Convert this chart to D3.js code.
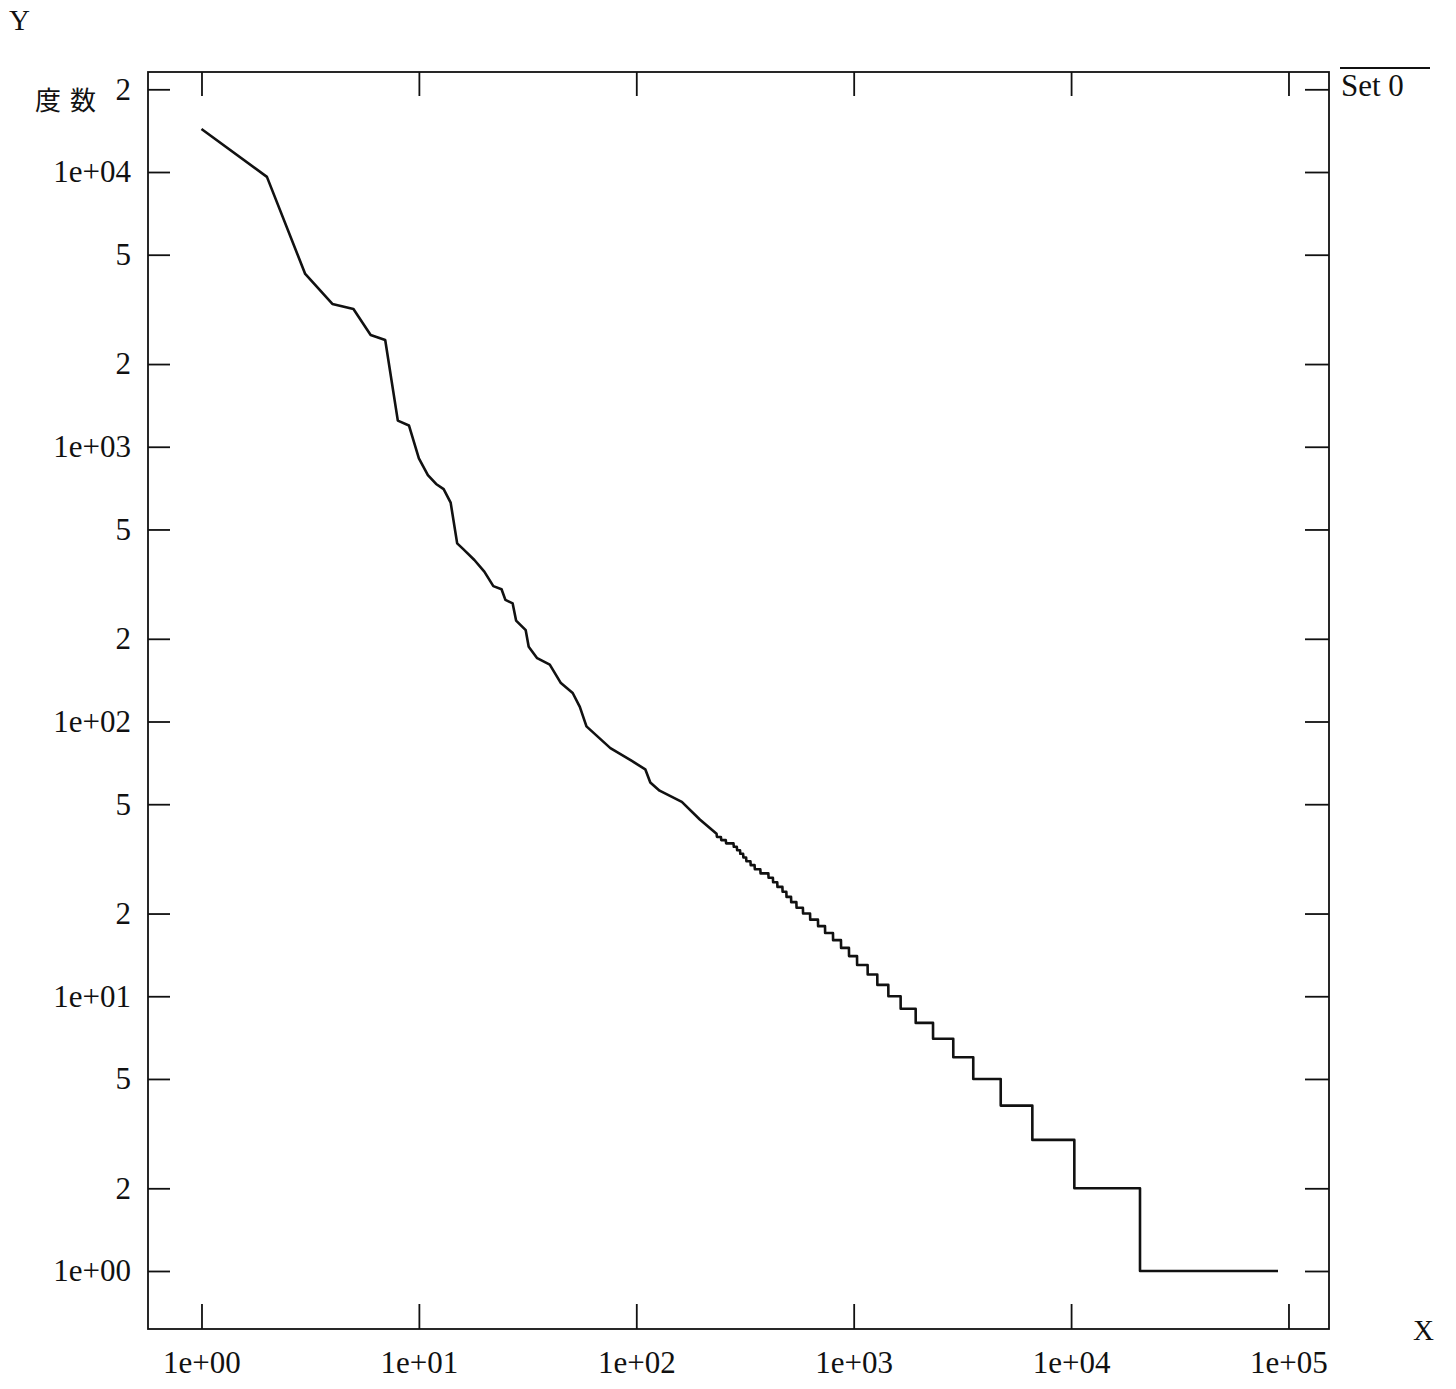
<!DOCTYPE html>
<html><head><meta charset="utf-8">
<script src="https://cdn.jsdelivr.net/npm/d3@7"></script>
<style>
body{margin:0;background:#fff}
text{font-family:"Liberation Serif","DejaVu Serif",serif;fill:#111}
</style>
</head><body>
<svg id="c" width="1456" height="1389"></svg>
<script>
// ---- data ----
const headRanks = [1,2,3,4,5,6,7,8,9,10,11,12,13,14,15,16,18,20,22,24,25,27,28,31,32,35,40,45,51,55,59,76,95,110,116,128,162,196,234];
const headFreqs = [14340,9600,4255,3310,3170,2553,2447,1245,1195,908,789,732,701,626,445,424,387,351,311,303,277,269,233,215,187,170,161,138,127,113,96,80,72,67,60,56,51,44,39];
const stepFreqs     = [38,37,36,35,34,33,32,31,30,29,28,27,26,25,24,23,22,21,20,19,18,17,16,15,14,13,12,11,10,9,8,7,6,5,4,3,2,1];
const stepLastRanks = [245,258,280,290,300,310,320,335,350,372,405,425,445,470,490,515,545,584,630,685,738,803,874,951,1036,1159,1284,1443,1644,1928,2317,2871,3548,4746,6634,10350,20750,89500];
const xTickValues = [1,10,100,1000,10000,100000];
const xTickLabels = ["1e+00","1e+01","1e+02","1e+03","1e+04","1e+05"];
const yTickValues = [20000,10000,5000,2000,1000,500,200,100,50,20,10,5,2,1];
const yTickLabels = ["2","1e+04","5","2","1e+03","5","2","1e+02","5","2","1e+01","5","2","1e+00"];
const seriesName = "Set 0";
const xTitle = "X", yTitle = "Y", yName = "度数";

// ---- build polyline vertices ----
const pts = headRanks.map((r,i)=>[r, headFreqs[i]]);
stepFreqs.forEach((f,i)=>{
  const start = (i===0 ? headRanks[headRanks.length-1] : stepLastRanks[i-1]) + 1;
  pts.push([start,f]); pts.push([stepLastRanks[i],f]);
});

const L=148, R=1329, T=72, B=1329;
const x = d3.scaleLog().domain([0.5675,153600]).range([L,R]);
const y = d3.scaleLog().domain([0.615,23120]).range([B,T]);
const svg = d3.select("#c");

function styleAxis(g){
  g.select(".domain").remove();
  g.selectAll(".tick line").attr("stroke","#111").attr("stroke-width",1.8);
  g.selectAll(".tick text").style("font-size","31px").attr("fill","#111");
}
// left
svg.append("g").attr("transform",`translate(${L},0)`)
  .call(d3.axisLeft(y).tickValues(yTickValues).tickFormat((d,i)=>yTickLabels[i]).tickSize(-22).tickPadding(17))
  .call(styleAxis);
// right
svg.append("g").attr("transform",`translate(${R},0)`)
  .call(d3.axisRight(y).tickValues(yTickValues).tickFormat("").tickSize(-24))
  .call(styleAxis);
// bottom
svg.append("g").attr("transform",`translate(0,${B})`)
  .call(d3.axisBottom(x).tickValues(xTickValues).tickFormat((d,i)=>xTickLabels[i]).tickSize(-25).tickPadding(22))
  .call(styleAxis);
// top
svg.append("g").attr("transform",`translate(0,${T})`)
  .call(d3.axisTop(x).tickValues(xTickValues).tickFormat("").tickSize(-24))
  .call(styleAxis);

// frame
svg.append("rect").attr("x",L).attr("y",T).attr("width",R-L).attr("height",B-T)
  .attr("fill","none").attr("stroke","#111").attr("stroke-width",1.8);

// data line
svg.append("path").datum(pts)
  .attr("d", d3.line().x(d=>x(d[0])).y(d=>y(d[1])))
  .attr("fill","none").attr("stroke","#111").attr("stroke-width",2.6).attr("stroke-linejoin","round");

// titles
svg.append("text").attr("x",9).attr("y",30).style("font-size","29px").text(yTitle);
svg.append("text").attr("x",1413).attr("y",1340).style("font-size","29px").text(xTitle);
svg.append("text").attr("x",35).attr("y",110)
  .style("font-family","'Noto Sans CJK JP','Noto Sans CJK SC',sans-serif")
  .style("font-size","26px").style("letter-spacing","9px").text(yName);

// legend
svg.append("line").attr("x1",1340).attr("x2",1430).attr("y1",68).attr("y2",68)
  .attr("stroke","#111").attr("stroke-width",1.8);
svg.append("text").attr("x",1341).attr("y",96).style("font-size","31px").text(seriesName);
</script>
</body></html>
